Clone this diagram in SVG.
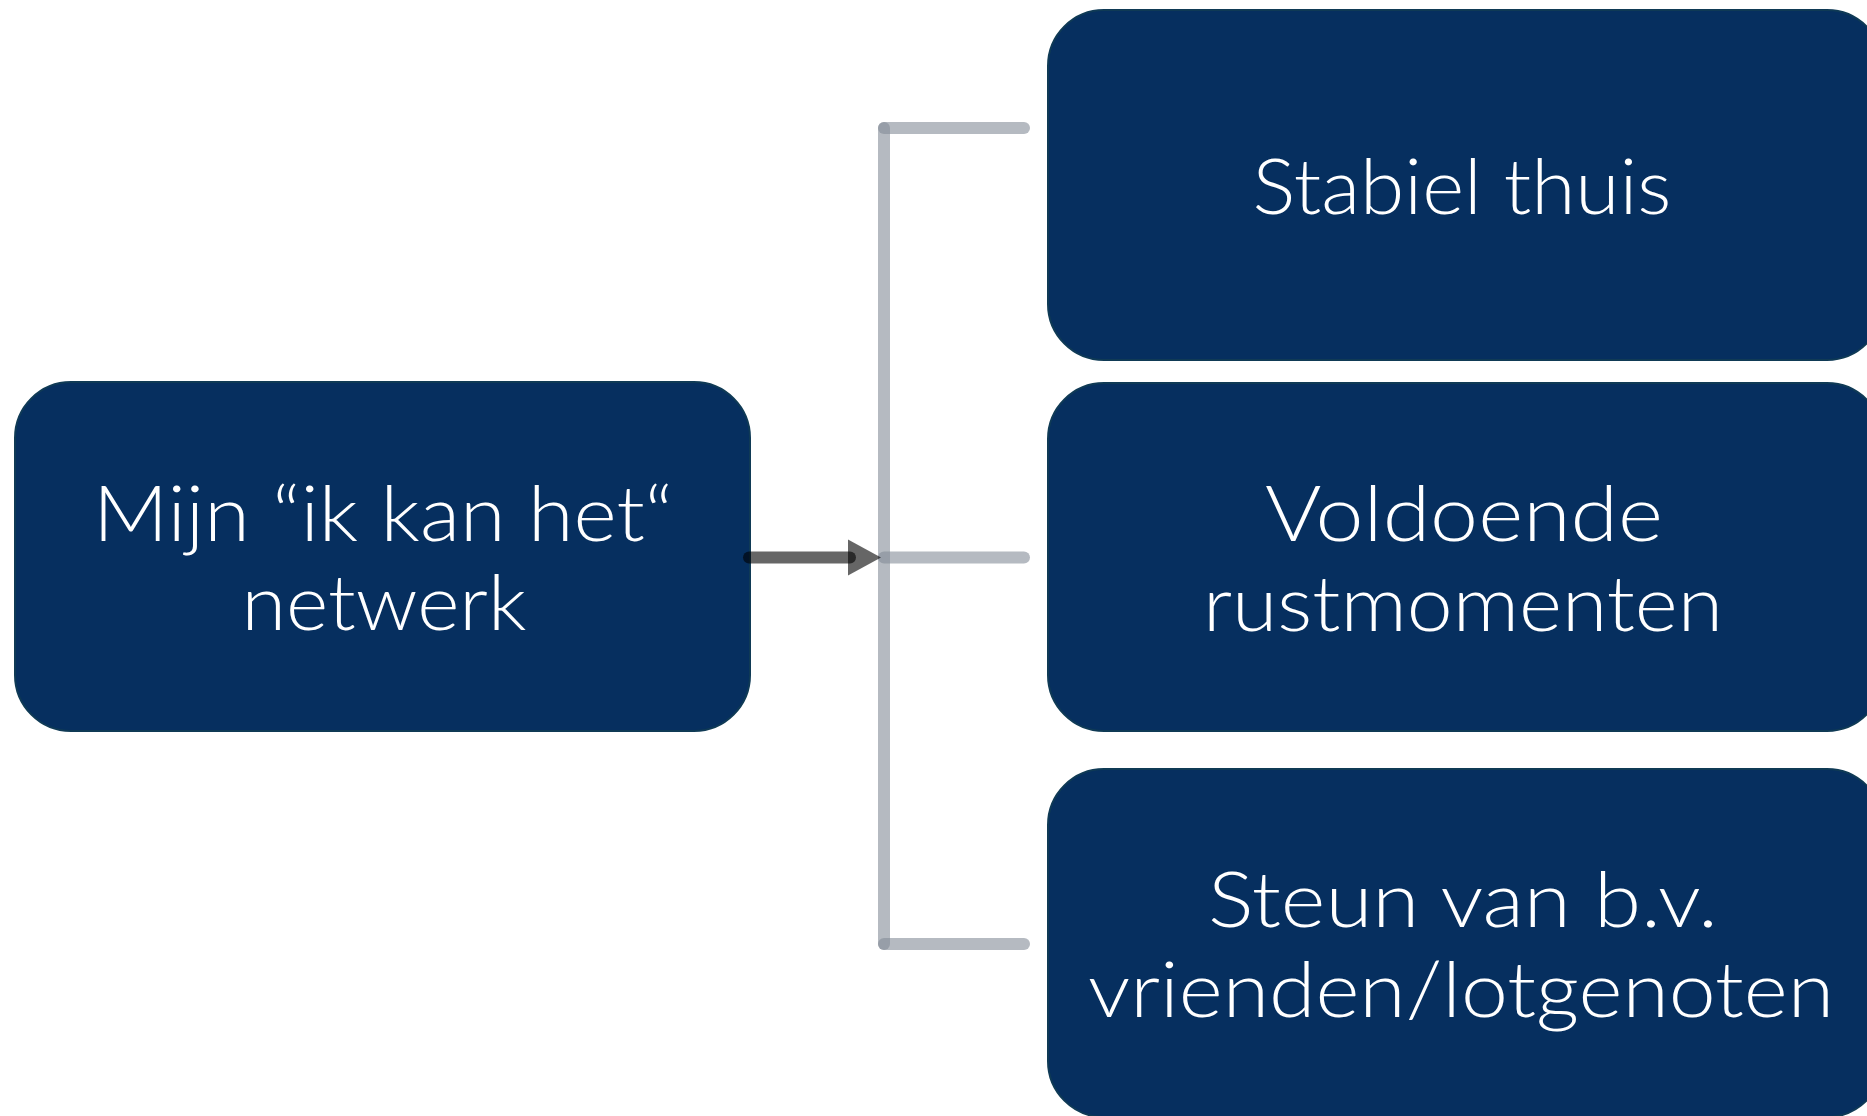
<svg xmlns="http://www.w3.org/2000/svg" width="1867" height="1116" viewBox="0 0 1867 1116">
  <style>
    .box { fill: #062f5f; stroke: #0f3a55; stroke-width: 2; }
    .lbl { fill: #ffffff; font-family: "Century Gothic", "Lato", "DejaVu Sans", sans-serif; font-size: 76px; font-weight: 300; text-anchor: middle; }
    .conn { stroke: #848c98; stroke-opacity: 0.6; stroke-width: 12; stroke-linecap: round; fill: none; }
    .arrow { stroke: #000000; stroke-opacity: 0.6; stroke-width: 12; stroke-linecap: round; fill: none; }
  </style>
  <rect width="1867" height="1116" fill="#ffffff"/>

  <g id="node-source">
    <rect class="box" x="15" y="382" width="735" height="349" rx="56" ry="56"/>
    <text class="lbl" x="383" y="541" textLength="580" lengthAdjust="spacingAndGlyphs">Mijn “ik kan het“</text>
    <text class="lbl" x="384" y="630" textLength="285" lengthAdjust="spacingAndGlyphs">netwerk</text>
  </g>

  <g id="node-stabiel">
    <rect class="box" x="1048" y="10" width="835" height="350" rx="56" ry="56"/>
    <text class="lbl" x="1462" y="214" textLength="419" lengthAdjust="spacingAndGlyphs">Stabiel thuis</text>
  </g>

  <g id="node-rust">
    <rect class="box" x="1048" y="383" width="835" height="348" rx="56" ry="56"/>
    <text class="lbl" x="1464" y="541" textLength="398" lengthAdjust="spacingAndGlyphs">Voldoende</text>
    <text class="lbl" x="1463" y="631" textLength="520" lengthAdjust="spacingAndGlyphs">rustmomenten</text>
  </g>

  <g id="node-steun">
    <rect class="box" x="1048" y="769" width="835" height="348" rx="56" ry="56"/>
    <text class="lbl" x="1463" y="927" textLength="510" lengthAdjust="spacingAndGlyphs">Steun van b.v.</text>
    <text class="lbl" x="1461" y="1017" textLength="746" lengthAdjust="spacingAndGlyphs">vrienden/lotgenoten</text>
  </g>

  <g id="connectors">
    <line class="conn" x1="884" y1="128" x2="884" y2="944"/>
    <line class="conn" x1="884" y1="128" x2="1024" y2="128"/>
    <line class="conn" x1="884" y1="557.5" x2="1024" y2="557.5"/>
    <line class="conn" x1="884" y1="944" x2="1024" y2="944"/>
    <line class="arrow" x1="749" y1="557.5" x2="850" y2="557.5"/>
    <path d="M848,539.5 L881,557.5 L848,575.5 Z" fill="#000000" fill-opacity="0.6"/>
  </g>
</svg>
